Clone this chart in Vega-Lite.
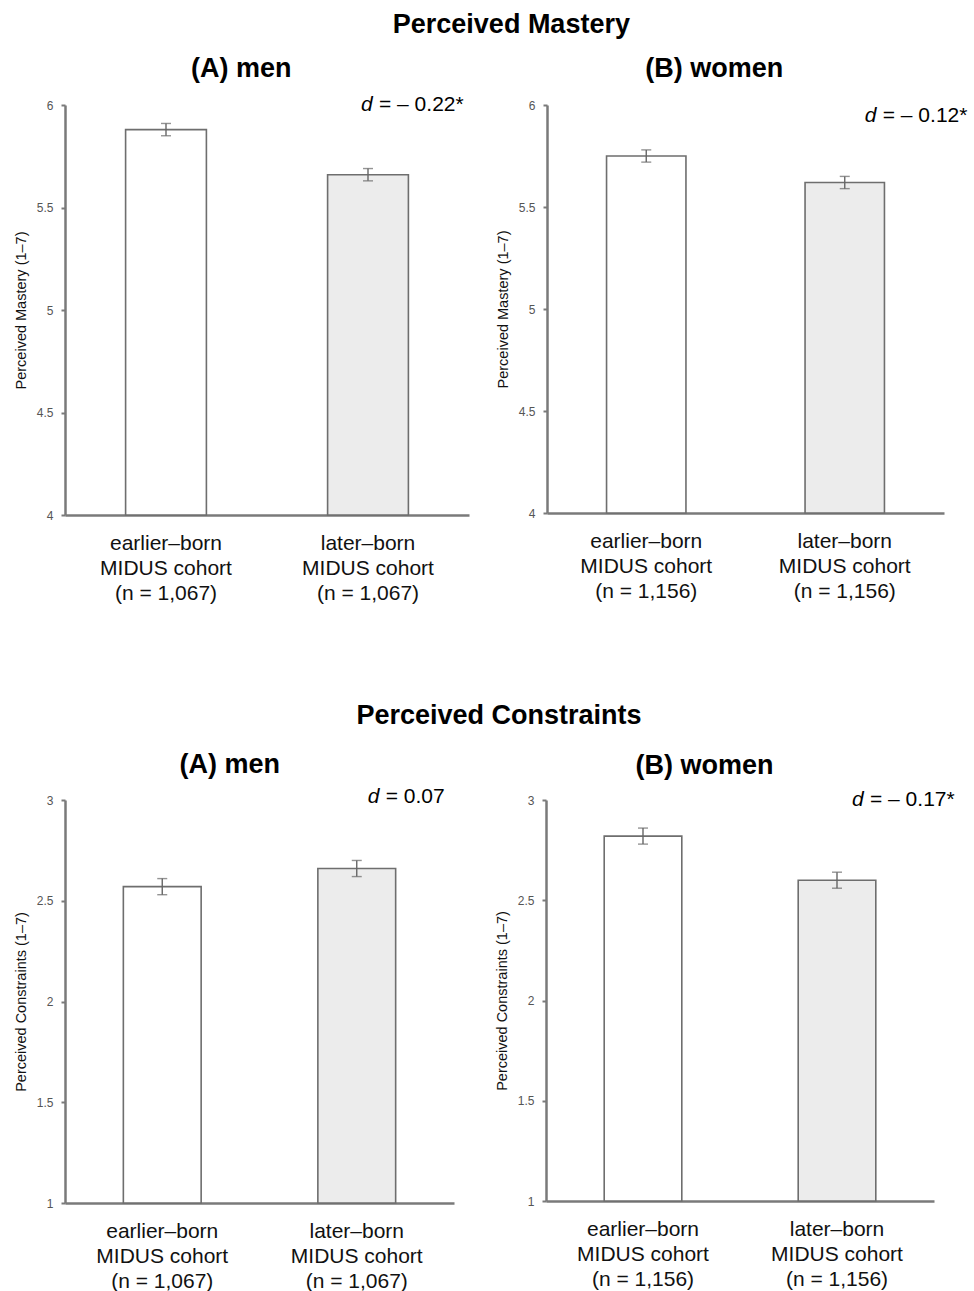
{
  "$schema": "https://vega.github.io/schema/vega-lite/v6.json",
  "padding": {"left": 13, "top": 11, "right": 0, "bottom": 0},
  "background": "white",
  "datasets": {
    "bars": [
      {"panel": "mastery-men", "cohort": "earlier", "label": "earlier–born|MIDUS cohort|(n = 1,067)", "mean": 5.88, "lo": 5.85, "hi": 5.91, "dstat": ""},
      {"panel": "mastery-men", "cohort": "later", "label": "later–born|MIDUS cohort|(n = 1,067)", "mean": 5.66, "lo": 5.63, "hi": 5.69, "dstat": "= – 0.22*"},
      {"panel": "mastery-women", "cohort": "earlier", "label": "earlier–born|MIDUS cohort|(n = 1,156)", "mean": 5.75, "lo": 5.72, "hi": 5.78, "dstat": ""},
      {"panel": "mastery-women", "cohort": "later", "label": "later–born|MIDUS cohort|(n = 1,156)", "mean": 5.62, "lo": 5.59, "hi": 5.65, "dstat": "= – 0.12*"},
      {"panel": "constraints-men", "cohort": "earlier", "label": "earlier–born|MIDUS cohort|(n = 1,067)", "mean": 2.57, "lo": 2.53, "hi": 2.61, "dstat": ""},
      {"panel": "constraints-men", "cohort": "later", "label": "later–born|MIDUS cohort|(n = 1,067)", "mean": 2.66, "lo": 2.62, "hi": 2.70, "dstat": "= 0.07"},
      {"panel": "constraints-women", "cohort": "earlier", "label": "earlier–born|MIDUS cohort|(n = 1,156)", "mean": 2.82, "lo": 2.78, "hi": 2.86, "dstat": ""},
      {"panel": "constraints-women", "cohort": "later", "label": "later–born|MIDUS cohort|(n = 1,156)", "mean": 2.60, "lo": 2.56, "hi": 2.64, "dstat": "= – 0.17*"}
    ]
  },
  "data": {"name": "bars"},
  "resolve": {"scale": {"x": "independent", "y": "independent", "fill": "independent"}},
  "vconcat": [
    {
      "title": {"text": "Perceived Mastery", "anchor": "middle", "offset": 16, "dx": 21},
      "spacing": 26,
      "resolve": {"scale": {"x": "independent", "y": "independent", "fill": "independent"}},
      "hconcat": [
        {
          "width": 404, "height": 410,
          "title": {"text": "(A) men", "offset": 11},
          "transform": [{"filter": "datum.panel === 'mastery-men'"}],
          "encoding": {
            "x": {"field": "label", "type": "nominal", "sort": null, "scale": {"paddingInner": 0.6, "paddingOuter": 0.3}, "axis": {"title": null}}
          },
          "layer": [
            {"mark": {"type": "bar", "stroke": "#6e6e6e", "strokeWidth": 1.6},
             "encoding": {
               "y": {"field": "mean", "type": "quantitative", "scale": {"domain": [4, 6], "nice": false, "zero": false}, "axis": {"title": "Perceived Mastery (1–7)", "values": [4, 4.5, 5, 5.5, 6], "format": "~g"}},
               "y2": {"datum": 4},
               "fill": {"field": "cohort", "type": "nominal", "scale": {"domain": ["earlier", "later"], "range": ["#ffffff", "#ececec"]}, "legend": null}
             }},
            {"mark": {"type": "rule", "color": "#666666", "strokeWidth": 1.4},
             "encoding": {"y": {"field": "lo", "type": "quantitative"}, "y2": {"field": "hi"}}},
            {"mark": {"type": "tick", "color": "#666666", "size": 10, "thickness": 1.4},
             "encoding": {"y": {"field": "lo", "type": "quantitative"}}},
            {"mark": {"type": "tick", "color": "#666666", "size": 10, "thickness": 1.4},
             "encoding": {"y": {"field": "hi", "type": "quantitative"}}},
            {"transform": [{"filter": "datum.cohort === 'later'"}],
             "mark": {"type": "text", "align": "left", "baseline": "middle", "fontSize": 21, "fontStyle": "italic", "dx": -7, "dy": 0},
             "encoding": {"y": {"datum": 6}, "text": {"value": "d"}}},
            {"transform": [{"filter": "datum.cohort === 'later'"}],
             "mark": {"type": "text", "align": "left", "baseline": "middle", "fontSize": 21, "dx": 11, "dy": 0},
             "encoding": {"y": {"datum": 6}, "text": {"field": "dstat"}}}
          ]
        },
        {
          "width": 397, "height": 408,
          "title": {"text": "(B) women", "offset": 16, "dx": -17},
          "transform": [{"filter": "datum.panel === 'mastery-women'"}],
          "encoding": {
            "x": {"field": "label", "type": "nominal", "sort": null, "scale": {"paddingInner": 0.6, "paddingOuter": 0.3}, "axis": {"title": null}}
          },
          "layer": [
            {"mark": {"type": "bar", "stroke": "#6e6e6e", "strokeWidth": 1.6},
             "encoding": {
               "y": {"field": "mean", "type": "quantitative", "scale": {"domain": [4, 6], "nice": false, "zero": false}, "axis": {"title": "Perceived Mastery (1–7)", "values": [4, 4.5, 5, 5.5, 6], "format": "~g"}},
               "y2": {"datum": 4},
               "fill": {"field": "cohort", "type": "nominal", "scale": {"domain": ["earlier", "later"], "range": ["#ffffff", "#ececec"]}, "legend": null}
             }},
            {"mark": {"type": "rule", "color": "#666666", "strokeWidth": 1.4},
             "encoding": {"y": {"field": "lo", "type": "quantitative"}, "y2": {"field": "hi"}}},
            {"mark": {"type": "tick", "color": "#666666", "size": 10, "thickness": 1.4},
             "encoding": {"y": {"field": "lo", "type": "quantitative"}}},
            {"mark": {"type": "tick", "color": "#666666", "size": 10, "thickness": 1.4},
             "encoding": {"y": {"field": "hi", "type": "quantitative"}}},
            {"transform": [{"filter": "datum.cohort === 'later'"}],
             "mark": {"type": "text", "align": "left", "baseline": "middle", "fontSize": 21, "fontStyle": "italic", "dx": 20, "dy": 11},
             "encoding": {"y": {"datum": 6}, "text": {"value": "d"}}},
            {"transform": [{"filter": "datum.cohort === 'later'"}],
             "mark": {"type": "text", "align": "left", "baseline": "middle", "fontSize": 21, "dx": 38, "dy": 11},
             "encoding": {"y": {"datum": 6}, "text": {"field": "dstat"}}}
          ]
        }
      ]
    },
    {
      "title": {"text": "Perceived Constraints", "anchor": "middle", "offset": 21, "dx": 15},
      "spacing": 40,
      "resolve": {"scale": {"x": "independent", "y": "independent", "fill": "independent"}},
      "hconcat": [
        {
          "width": 389, "height": 403,
          "title": {"text": "(A) men", "offset": 7, "dx": -4},
          "transform": [{"filter": "datum.panel === 'constraints-men'"}],
          "encoding": {
            "x": {"field": "label", "type": "nominal", "sort": null, "scale": {"paddingInner": 0.6, "paddingOuter": 0.3}, "axis": {"title": null}}
          },
          "layer": [
            {"mark": {"type": "bar", "stroke": "#6e6e6e", "strokeWidth": 1.6},
             "encoding": {
               "y": {"field": "mean", "type": "quantitative", "scale": {"domain": [1, 3], "nice": false, "zero": false}, "axis": {"title": "Perceived Constraints (1–7)", "values": [1, 1.5, 2, 2.5, 3], "format": "~g"}},
               "y2": {"datum": 1},
               "fill": {"field": "cohort", "type": "nominal", "scale": {"domain": ["earlier", "later"], "range": ["#ffffff", "#ececec"]}, "legend": null}
             }},
            {"mark": {"type": "rule", "color": "#666666", "strokeWidth": 1.4},
             "encoding": {"y": {"field": "lo", "type": "quantitative"}, "y2": {"field": "hi"}}},
            {"mark": {"type": "tick", "color": "#666666", "size": 10, "thickness": 1.4},
             "encoding": {"y": {"field": "lo", "type": "quantitative"}}},
            {"mark": {"type": "tick", "color": "#666666", "size": 10, "thickness": 1.4},
             "encoding": {"y": {"field": "hi", "type": "quantitative"}}},
            {"transform": [{"filter": "datum.cohort === 'later'"}],
             "mark": {"type": "text", "align": "left", "baseline": "middle", "fontSize": 21, "fontStyle": "italic", "dx": 11, "dy": -3},
             "encoding": {"y": {"datum": 3}, "text": {"value": "d"}}},
            {"transform": [{"filter": "datum.cohort === 'later'"}],
             "mark": {"type": "text", "align": "left", "baseline": "middle", "fontSize": 21, "dx": 29, "dy": -3},
             "encoding": {"y": {"datum": 3}, "text": {"field": "dstat"}}}
          ]
        },
        {
          "width": 388, "height": 401,
          "title": {"text": "(B) women", "offset": 9, "dx": -20},
          "transform": [{"filter": "datum.panel === 'constraints-women'"}],
          "encoding": {
            "x": {"field": "label", "type": "nominal", "sort": null, "scale": {"paddingInner": 0.6, "paddingOuter": 0.3}, "axis": {"title": null}}
          },
          "layer": [
            {"mark": {"type": "bar", "stroke": "#6e6e6e", "strokeWidth": 1.6},
             "encoding": {
               "y": {"field": "mean", "type": "quantitative", "scale": {"domain": [1, 3], "nice": false, "zero": false}, "axis": {"title": "Perceived Constraints (1–7)", "values": [1, 1.5, 2, 2.5, 3], "format": "~g"}},
               "y2": {"datum": 1},
               "fill": {"field": "cohort", "type": "nominal", "scale": {"domain": ["earlier", "later"], "range": ["#ffffff", "#ececec"]}, "legend": null}
             }},
            {"mark": {"type": "rule", "color": "#666666", "strokeWidth": 1.4},
             "encoding": {"y": {"field": "lo", "type": "quantitative"}, "y2": {"field": "hi"}}},
            {"mark": {"type": "tick", "color": "#666666", "size": 10, "thickness": 1.4},
             "encoding": {"y": {"field": "lo", "type": "quantitative"}}},
            {"mark": {"type": "tick", "color": "#666666", "size": 10, "thickness": 1.4},
             "encoding": {"y": {"field": "hi", "type": "quantitative"}}},
            {"transform": [{"filter": "datum.cohort === 'later'"}],
             "mark": {"type": "text", "align": "left", "baseline": "middle", "fontSize": 21, "fontStyle": "italic", "dx": 15, "dy": 0},
             "encoding": {"y": {"datum": 3}, "text": {"value": "d"}}},
            {"transform": [{"filter": "datum.cohort === 'later'"}],
             "mark": {"type": "text", "align": "left", "baseline": "middle", "fontSize": 21, "dx": 33, "dy": 0},
             "encoding": {"y": {"datum": 3}, "text": {"field": "dstat"}}}
          ]
        }
      ]
    }
  ],
  "spacing": 99,
  "config": {
    "font": "Liberation Sans",
    "view": {"stroke": null},
    "title": {"fontSize": 27, "fontWeight": "bold", "color": "#000000", "offset": 18, "anchor": "middle", "frame": "bounds"},
    "axis": {"grid": false, "domainColor": "#7a7a7a", "domainWidth": 2.5, "tickColor": "#7a7a7a", "tickWidth": 2},
    "axisX": {"ticks": false, "labelAngle": 0, "labelFontSize": 21, "labelColor": "#111111", "labelPadding": 17, "labelLineHeight": 25, "labelExpr": "split(datum.label, '|')", "labelLimit": 0},
    "axisY": {"tickSize": 4, "labelFontSize": 12, "labelColor": "#555555", "labelPadding": 8, "titleFontSize": 14.5, "titleFontWeight": "normal", "titleColor": "#111111", "titlePadding": 8}
  }
}
